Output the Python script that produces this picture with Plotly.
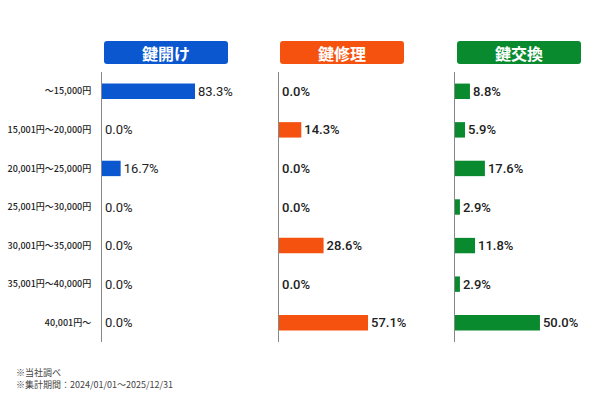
import plotly.graph_objects as go

categories = ["～15,000円", "15,001円～20,000円", "20,001円～25,000円", "25,001円～30,000円",
              "30,001円～35,000円", "35,001円～40,000円", "40,001円～"]
series_names = ["鍵開け", "鍵修理", "鍵交換"]
values_open = [83.3, 0.0, 16.7, 0.0, 0.0, 0.0, 0.0]
values_repair = [0.0, 14.3, 0.0, 0.0, 28.6, 0.0, 57.1]
values_replace = [8.8, 5.9, 17.6, 2.9, 11.8, 2.9, 50.0]
notes = ["※当社調べ", "※集計期間：2024/01/01～2025/12/31"]

colors = ["#0b57d0", "#f5520f", "#0a8a2e"]
series = [values_open, values_repair, values_replace]
label_weights = [400, 500, 500]

W, H = 600, 400
FONT = "Noto Sans CJK JP"

def px_x(p):
    return p / W

def px_y(p):
    return 1 - p / H

panel_left = [102, 279, 455]
panel_w = 140
x_ranges = [125.4, 89.8, 82.4]
y_dom = [px_y(342), px_y(72)]

fig = go.Figure()
for i, (vals, col) in enumerate(zip(series, colors)):
    sfx = "" if i == 0 else str(i + 1)
    fig.add_trace(go.Bar(
        x=vals, y=categories, orientation="h",
        marker=dict(color=col, line=dict(width=0)),
        text=[f"{v:.1f}%" for v in vals], textposition="outside",
        textfont=dict(family="Roboto", size=13, color="#222", weight=label_weights[i]),
        cliponaxis=False, xaxis="x" + sfx, yaxis="y" + sfx,
        showlegend=False, name=series_names[i],
    ))

layout = dict(
    width=W, height=H, margin=dict(l=0, r=0, t=0, b=0),
    paper_bgcolor="white", plot_bgcolor="white",
    bargap=0.6, font=dict(family=FONT),
)
for i in range(3):
    sfx = "" if i == 0 else str(i + 1)
    layout["xaxis" + sfx] = dict(
        domain=[px_x(panel_left[i]), px_x(panel_left[i] + panel_w)],
        range=[0, x_ranges[i]], visible=False, fixedrange=True,
        anchor="y" + sfx,
    )
    layout["yaxis" + sfx] = dict(
        domain=y_dom, autorange="reversed", anchor="x" + sfx,
        showline=True, linecolor="#888", linewidth=1,
        showgrid=False, zeroline=False, ticks="",
        showticklabels=(i == 0),
        tickfont=dict(family=FONT, size=9, color="#222", weight=500),
        ticklabelstandoff=8,
    )
    if i > 0:
        layout["yaxis" + sfx]["matches"] = "y"
fig.update_layout(**layout)

# header boxes
hdr = [(104, 228), (280, 404), (457, 581)]
top, bot = 41, 64
r = 3
shapes = []
annotations = []
for i, (x0, x1) in enumerate(hdr):
    rx, ry = r / W, r / H
    X0, X1 = px_x(x0), px_x(x1)
    Yt, Yb = px_y(top), px_y(bot)
    path = (f"M {X0+rx},{Yt} L {X1-rx},{Yt} Q {X1},{Yt} {X1},{Yt-ry} "
            f"L {X1},{Yb+ry} Q {X1},{Yb} {X1-rx},{Yb} "
            f"L {X0+rx},{Yb} Q {X0},{Yb} {X0},{Yb+ry} "
            f"L {X0},{Yt-ry} Q {X0},{Yt} {X0+rx},{Yt} Z")
    shapes.append(dict(type="path", path=path, xref="paper", yref="paper",
                       fillcolor=colors[i], line=dict(width=0), layer="above"))
    annotations.append(dict(
        x=(X0 + X1) / 2, y=(Yt + Yb) / 2, xref="paper", yref="paper",
        text=f"<b>{series_names[i]}</b>", showarrow=False,
        font=dict(family=FONT, size=16, color="white"),
        xanchor="center", yanchor="middle",
    ))

for j, n in enumerate(notes):
    annotations.append(dict(
        x=px_x(14), y=px_y(372 + 12 * j), xref="paper", yref="paper",
        text=n, showarrow=False, xanchor="left", yanchor="middle",
        font=dict(family=FONT, size=9, color="#444"),
    ))

fig.update_layout(shapes=shapes, annotations=annotations)
fig.write_html("out.html")
